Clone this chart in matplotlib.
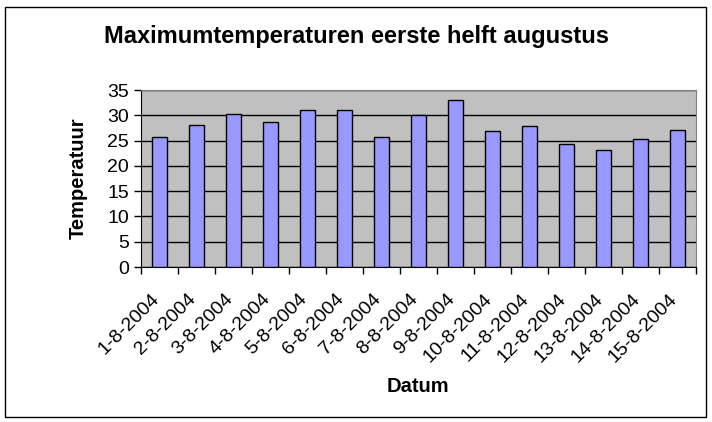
import matplotlib
matplotlib.use('Agg')
import matplotlib.pyplot as plt
import matplotlib.transforms as mtransforms
import numpy as np

plt.rcParams['font.family'] = ['Liberation Sans', 'DejaVu Sans']

datums = ['1-8-2004', '2-8-2004', '3-8-2004', '4-8-2004', '5-8-2004',
          '6-8-2004', '7-8-2004', '8-8-2004', '9-8-2004', '10-8-2004',
          '11-8-2004', '12-8-2004', '13-8-2004', '14-8-2004', '15-8-2004']
temperaturen = [25.8, 28.0, 30.2, 28.6, 31.0, 31.0, 25.7, 30.0, 33.0,
                26.8, 27.8, 24.3, 23.1, 25.3, 27.0]

fig = plt.figure(figsize=(7.12, 4.22), dpi=100)
ax = fig.add_axes([141 / 712, 1 - 267 / 422, 555 / 712, 177 / 422])

x = np.arange(len(datums))
ax.set_facecolor('#C0C0C0')
ax.bar(x, temperaturen, width=0.4, color='#9999FF', edgecolor='black',
       linewidth=1, zorder=3)

ax.set_xlim(-0.5, len(datums) - 0.5)
ax.set_ylim(0, 35)
ax.set_yticks(range(0, 36, 5))
ax.yaxis.grid(True, color='black', linewidth=1, zorder=1)
ax.set_axisbelow(True)

ax.set_xticks(x)
ax.set_xticklabels(datums, rotation=45, ha='right', rotation_mode='anchor',
                   fontsize=14)
ax.set_xticks(np.arange(-0.5, len(datums)), minor=True)
ax.tick_params(axis='x', which='major', length=0, pad=17)
ax.tick_params(axis='x', which='minor', length=5, direction='out', width=1)
ax.tick_params(axis='y', length=5, direction='out', width=1, labelsize=14)

# labels iets naar links schuiven, zoals in Excel
shift = mtransforms.ScaledTranslation(-9 / 100, 0, fig.dpi_scale_trans)
for lbl in ax.get_xticklabels():
    lbl.set_transform(lbl.get_transform() + shift)

for s in ['top', 'right']:
    ax.spines[s].set_color('#808080')
ax.spines['left'].set_color('black')
ax.spines['bottom'].set_color('black')

ax.set_ylabel('Temperatuur', fontsize=14.5, fontweight='bold', labelpad=14)
fig.text(418 / 712, 1 - 386 / 422, 'Datum', fontsize=14.5, fontweight='bold',
         ha='center', va='center')
fig.text(357 / 712, 1 - 36 / 422, 'Maximumtemperaturen eerste helft augustus',
         fontsize=17, fontweight='bold', ha='center', va='center')

fig.patches.append(plt.Rectangle((5 / 712, 5 / 422), 701 / 712, 410 / 422,
                                 transform=fig.transFigure, fill=False,
                                 edgecolor='black', linewidth=1))

fig.savefig('out.png', dpi=100)
